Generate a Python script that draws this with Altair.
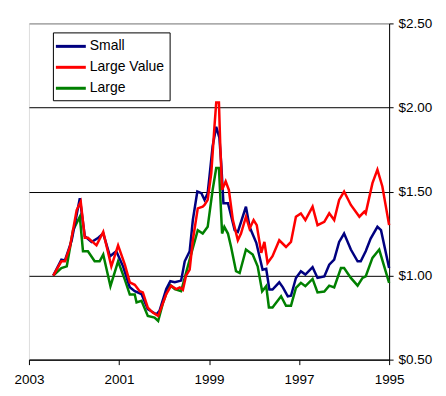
import altair as alt
import pandas as pd

series_order = ["Small", "Large Value", "Large"]
series_colors = ["#000080", "#FF0000", "#008000"]

small_years = [2002.46, 2002.28, 2002.20, 2002.05, 2001.87, 2001.76, 2001.61, 2001.46, 2001.35,
               2001.20, 2001.06, 2000.91, 2000.76, 2000.65, 2000.50, 2000.36, 2000.17, 2000.10,
               1999.95, 1999.86, 1999.76, 1999.62, 1999.54, 1999.43, 1999.36, 1999.26, 1999.17,
               1999.10, 1999.03, 1998.99, 1998.92, 1998.84, 1998.77, 1998.73, 1998.68, 1998.58,
               1998.55, 1998.43, 1998.36, 1998.18, 1998.10, 1997.95, 1997.81, 1997.73, 1997.66,
               1997.59, 1997.44, 1997.36, 1997.25, 1997.18, 1997.07, 1996.96, 1996.86, 1996.70,
               1996.59, 1996.44, 1996.33, 1996.22, 1996.11, 1996.00, 1995.85, 1995.70, 1995.63,
               1995.52, 1995.41, 1995.26, 1995.18, 1995.00]
small_values = [1.00, 1.095, 1.09, 1.21, 1.46, 1.235, 1.20, 1.225, 1.25,
                1.115, 1.145, 1.055, 0.93, 0.907, 0.89, 0.80, 0.77, 0.79,
                0.92, 0.966, 0.96, 0.97, 1.085, 1.145, 1.33, 1.50, 1.49,
                1.45, 1.49, 1.59, 1.77, 1.885, 1.82, 1.67, 1.43, 1.43,
                1.40, 1.27, 1.26, 1.41, 1.29, 1.195, 1.035, 1.04, 0.917,
                0.917, 0.96, 0.93, 0.877, 0.88, 0.986, 1.026, 1.006, 1.05,
                0.986, 0.995, 1.065, 1.095, 1.20, 1.25, 1.155, 1.085, 1.085,
                1.145, 1.22, 1.29, 1.27, 1.045]

lv_years = [2002.46, 2002.28, 2002.20, 2002.09, 2001.94, 2001.85, 2001.76, 2001.69, 2001.50,
            2001.35, 2001.17, 2001.02, 2000.87, 2000.76, 2000.65, 2000.54, 2000.47, 2000.36,
            2000.25, 2000.13, 2000.06, 1999.95, 1999.84, 1999.73, 1999.65, 1999.58, 1999.51,
            1999.43, 1999.36, 1999.25, 1999.14, 1999.10, 1999.03, 1998.95, 1998.88, 1998.84,
            1998.78, 1998.75, 1998.71, 1998.63, 1998.56, 1998.47, 1998.36, 1998.29, 1998.18,
            1998.10, 1998.01, 1997.94, 1997.84, 1997.77, 1997.70, 1997.59, 1997.44, 1997.29,
            1997.18, 1997.07, 1996.96, 1996.86, 1996.70, 1996.59, 1996.44, 1996.33, 1996.22,
            1996.11, 1996.00, 1995.85, 1995.66, 1995.55, 1995.52, 1995.37, 1995.26, 1995.15,
            1995.00]
lv_values = [1.00, 1.085, 1.085, 1.17, 1.39, 1.44, 1.225, 1.225, 1.18,
             1.26, 1.055, 1.18, 1.065, 0.96, 0.945, 0.907, 0.90, 0.81,
             0.78, 0.76, 0.81, 0.89, 0.94, 0.92, 0.93, 0.915, 1.00,
             1.035, 1.21, 1.40, 1.41, 1.42, 1.45, 1.61, 1.885, 2.03,
             2.03, 1.77, 1.51, 1.56, 1.51, 1.33, 1.21, 1.25, 1.35,
             1.28, 1.33, 1.30, 1.135, 1.20, 1.075, 1.115, 1.21, 1.17,
             1.20, 1.35, 1.37, 1.33, 1.41, 1.30, 1.32, 1.37, 1.33,
             1.45, 1.50, 1.42, 1.35, 1.38, 1.37, 1.55, 1.63, 1.53,
             1.30]

large_years = [2002.46, 2002.28, 2002.16, 2002.02, 2001.87, 2001.80, 2001.69, 2001.54, 2001.43,
               2001.35, 2001.19, 2001.02, 2000.87, 2000.76, 2000.65, 2000.61, 2000.50, 2000.36,
               2000.21, 2000.13, 2000.02, 1999.88, 1999.76, 1999.62, 1999.54, 1999.39, 1999.25,
               1999.14, 1999.03, 1998.92, 1998.84, 1998.78, 1998.71, 1998.66, 1998.58, 1998.51,
               1998.40, 1998.32, 1998.18, 1998.03, 1997.92, 1997.82, 1997.73, 1997.67, 1997.59,
               1997.40, 1997.29, 1997.18, 1997.07, 1996.96, 1996.86, 1996.70, 1996.59, 1996.44,
               1996.33, 1996.22, 1996.07, 1996.00, 1995.85, 1995.70, 1995.59, 1995.52, 1995.37,
               1995.22, 1995.00]
large_values = [1.00, 1.045, 1.055, 1.27, 1.35, 1.145, 1.145, 1.085, 1.085,
                1.125, 0.937, 1.085, 0.976, 0.887, 0.887, 0.84, 0.85, 0.76,
                0.75, 0.73, 0.84, 0.947, 0.92, 0.907, 0.986, 1.135, 1.27,
                1.25, 1.29, 1.51, 1.64, 1.64, 1.25, 1.29, 1.25, 1.17,
                1.026, 1.015, 1.155, 1.125, 1.055, 0.907, 0.937, 0.81, 0.81,
                0.877, 0.82, 0.82, 0.927, 0.957, 0.937, 0.98, 0.90, 0.905,
                0.94, 0.93, 1.045, 1.045, 0.986, 0.94, 0.986, 0.995, 1.105,
                1.155, 0.957]

x_ticks = [2003, 2001, 1999, 1997, 1995]
y_ticks = [0.5, 1.0, 1.5, 2.0, 2.5]

rows = []
for name, ys, vs in [("Large", large_years, large_values),
                     ("Small", small_years, small_values),
                     ("Large Value", lv_years, lv_values)]:
    for i, (yr, v) in enumerate(zip(ys, vs)):
        rows.append({"series": name, "year": yr, "value": v, "idx": i})
df = pd.DataFrame(rows)

FONT = "Liberation Sans"

chart = alt.Chart(df).mark_line(strokeWidth=2.5, strokeJoin="miter").encode(
    x=alt.X("year:Q",
            scale=alt.Scale(domain=[1995, 2003], reverse=True, nice=False, zero=False),
            axis=alt.Axis(values=x_ticks, format="d", title=None, grid=False,
                          domainColor="black", tickColor="black", tickSize=5,
                          labelColor="black", labelFont=FONT, labelFontSize=13.5,
                          labelPadding=8, labelFlush=False)),
    y=alt.Y("value:Q",
            scale=alt.Scale(domain=[0.5, 2.5], nice=False, zero=False),
            axis=alt.Axis(orient="right", values=y_ticks, format="$.2f", title=None,
                          grid=True,
                          gridColor={"condition": {"test": "datum.value >= 2.5", "value": "#808080"}, "value": "black"},
                          gridOpacity=1, gridWidth=1,
                          domainColor="black", tickColor="black", tickSize=4,
                          labelColor="black", labelFont=FONT, labelFontSize=13.5,
                          labelPadding=5)),
    color=alt.Color("series:N",
                    scale=alt.Scale(domain=series_order, range=series_colors),
                    legend=alt.Legend(title=None, orient="none", legendX=24, legendY=9,
                                      strokeColor="black", fillColor="white", padding=5,
                                      symbolType="M-2,0L2,0", symbolSize=225,
                                      symbolStrokeWidth=3, symbolOffset=4,
                                      labelFont=FONT, labelFontSize=14, labelColor="black",
                                      labelOffset=10, rowPadding=5, cornerRadius=0)),
    order=alt.Order("idx:Q"),
).properties(
    width=361, height=337,
    autosize=alt.AutoSizeParams(type="none"),
    padding={"left": 21, "top": 15, "right": 49, "bottom": 36},
).configure_view(
    stroke="#808080", strokeWidth=1
).configure(background="white")

chart.save("out.html", embed_options={"renderer": "svg", "actions": False})
